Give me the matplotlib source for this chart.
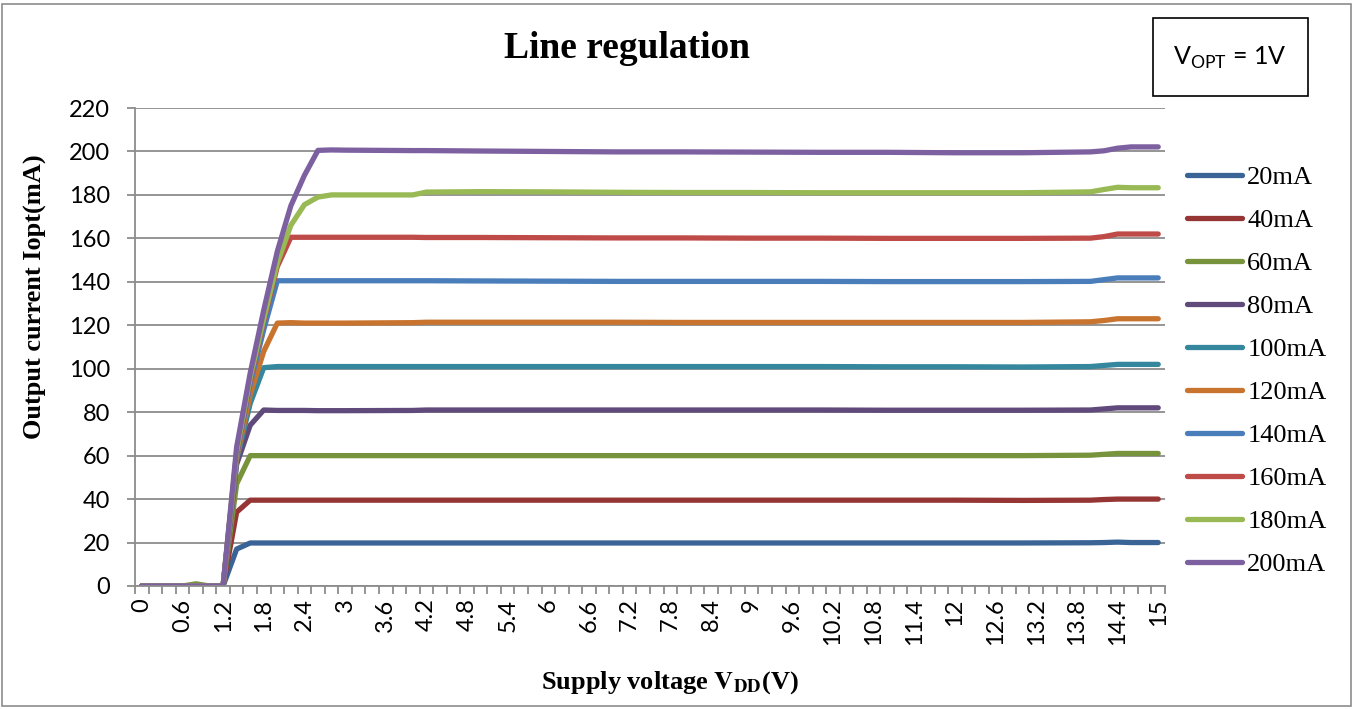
"""Line regulation chart: output current vs supply voltage"""
import matplotlib
matplotlib.use('Agg')
import matplotlib.pyplot as plt
from matplotlib.patches import Rectangle

plt.rcParams['mathtext.fontset'] = 'custom'
plt.rcParams['mathtext.rm'] = 'Lato'

# supply voltage (V) at the points
volts = [0, 0.2, 0.4, 0.6, 0.8, 1.0, 1.2, 1.4, 1.6, 1.8, 2.0, 2.2, 2.4, 2.6, 2.8, 3.0,
         4.0, 4.2, 5.0, 6.0, 7.0, 8.0, 9.0, 10.0, 11.0, 12.0, 13.0, 14.0, 14.2, 14.4, 14.6, 15.0]

# output current (mA) per load setting
i_20 = [0, 0, 0, 0, 0, 0, 0, 17, 19.8, 19.8, 19.8, 19.8, 19.8, 19.8, 19.8, 19.8,
        19.8, 19.8, 19.8, 19.8, 19.8, 19.8, 19.8, 19.8, 19.8, 19.8, 19.8, 19.9, 20.0, 20.2, 20.0, 20.0]
i_40 = [0, 0, 0, 0, 0, 0, 0, 34, 39.5, 39.5, 39.5, 39.5, 39.5, 39.5, 39.5, 39.5,
        39.5, 39.5, 39.5, 39.5, 39.5, 39.5, 39.5, 39.5, 39.5, 39.5, 39.4, 39.5, 39.8, 40.0, 40.0, 40.0]
i_60 = [0, 0, 0, 0, 1, 0, 0, 47, 60, 60, 60, 60, 60, 60, 60, 60,
        60, 60, 60, 60, 60, 60, 60, 60, 60, 60, 60, 60.2, 60.6, 61, 61, 61]
i_80 = [0, 0, 0, 0, 0, 0, 0, 56, 74, 81, 80.8, 80.8, 80.8, 80.7, 80.7, 80.7,
        80.8, 81, 81, 81, 81, 81, 81, 81, 80.9, 80.9, 80.9, 81, 81.5, 82, 82, 82]
i_100 = [0, 0, 0, 0, 0, 0, 0, 58, 84, 100.5, 101, 101, 101, 101, 101, 101,
         101, 101, 101, 101, 101, 101, 101, 101, 100.9, 100.9, 100.8, 101, 101.5, 102, 102, 102]
i_120 = [0, 0, 0, 0, 0, 0, 0, 59, 88, 108, 121, 121.2, 121, 121, 121, 121,
         121.2, 121.4, 121.4, 121.4, 121.4, 121.3, 121.3, 121.3, 121.3, 121.3, 121.3, 121.6, 122.2, 123, 123, 123]
i_140 = [0, 0, 0, 0, 0, 0, 0, 60, 93, 118, 140.5, 140.5, 140.5, 140.5, 140.5, 140.5,
         140.5, 140.5, 140.4, 140.3, 140.2, 140.2, 140.2, 140.2, 140.1, 140.1, 140.1, 140.2, 141, 141.8, 141.8, 141.8]
i_160 = [0, 0, 0, 0, 0, 0, 0, 61, 95, 122, 147, 160.5, 160.5, 160.5, 160.5, 160.5,
         160.5, 160.4, 160.4, 160.3, 160.2, 160.2, 160.1, 160.1, 160, 160, 160, 160.1, 160.8, 162, 162, 162]
i_180 = [0, 0, 0, 0, 0, 0, 0, 62, 96, 123, 148.6, 166, 175.5, 179, 180, 180,
         180, 181.3, 181.5, 181.4, 181.2, 181.1, 181.1, 181, 181, 181, 181, 181.4, 182.5, 183.5, 183.3, 183.3]
i_200 = [0, 0, 0, 0, 0, 0, 0, 64, 98, 127, 154, 175, 189, 200.5, 200.7, 200.6,
         200.4, 200.4, 200.2, 200, 199.8, 199.8, 199.7, 199.6, 199.6, 199.4, 199.4, 199.8, 200.3, 201.5, 202.1, 202.1]

labels = ['20mA', '40mA', '60mA', '80mA', '100mA', '120mA', '140mA', '160mA', '180mA', '200mA']
series = [i_20, i_40, i_60, i_80, i_100, i_120, i_140, i_160, i_180, i_200]
colors = ['#3B6496', '#963634', '#77933C', '#604A7B', '#34879D',
          '#C8742F', '#4A7EBB', '#BE4B48', '#98B954', '#7D60A0']

x_ticks = [0, 0.6, 1.2, 1.8, 2.4, 3.0, 3.6, 4.2, 4.8, 5.4, 6.0, 6.6, 7.2, 7.8, 8.4,
           9.0, 9.6, 10.2, 10.8, 11.4, 12.0, 12.6, 13.2, 13.8, 14.4, 15.0]
x_tick_labels = ['0', '0.6', '1.2', '1.8', '2.4', '3', '3.6', '4.2', '4.8', '5.4', '6', '6.6',
                 '7.2', '7.8', '8.4', '9', '9.6', '10.2', '10.8', '11.4', '12', '12.6',
                 '13.2', '13.8', '14.4', '15']
category_edges = [round(-0.1 + 0.2 * k, 1) for k in range(77)]

grid_gray = '#8C8C8C'

fig = plt.figure(figsize=(13.55, 7.09), dpi=100)
ax = fig.add_axes([135 / 1355, 1 - 586 / 709, 1030 / 1355, 478 / 709])

for vals, lab, col in zip(series, labels, colors):
    ax.plot(volts, vals, color=col, lw=3.8, label=lab,
            solid_joinstyle='round', solid_capstyle='round')

ax.set_xlim(-0.1, 15.1)
ax.set_ylim(0, 220)
ax.set_yticks(range(0, 221, 20))
ax.set_xticks(x_ticks)
ax.set_xticklabels(x_tick_labels, rotation=90)
ax.set_xticks(category_edges, minor=True)

ax.grid(axis='y', color=grid_gray, lw=1.3)
ax.set_axisbelow(True)
for side in ['top', 'right']:
    ax.spines[side].set_visible(False)
for side in ['left', 'bottom']:
    ax.spines[side].set_color(grid_gray)
    ax.spines[side].set_linewidth(1.3)

ax.tick_params(axis='x', which='major', length=0, pad=9, labelsize=17)
ax.tick_params(axis='x', which='minor', length=6, width=1.3, color=grid_gray)
ax.tick_params(axis='y', length=6, width=1.3, color=grid_gray, pad=12, labelsize=17)
for t in ax.get_xticklabels() + ax.get_yticklabels():
    t.set_fontfamily('Lato')

fig.legend(loc='upper left', bbox_to_anchor=(1176 / 1355, 1 - 155 / 709),
           frameon=False, handlelength=2.1, handletextpad=0.2, labelspacing=0.74,
           borderaxespad=0, prop={'family': 'Liberation Serif', 'size': 19})

fig.text(627 / 1355, 1 - 49 / 709, 'Line regulation', ha='center', va='center',
         fontsize=27, fontweight='bold', family='Liberation Serif')
fig.text(35 / 1355, 1 - 297 / 709, 'Output current Iopt(mA)', rotation=90,
         ha='center', va='center', fontsize=19, fontweight='bold', family='Liberation Serif')
fig.text(670 / 1355, 1 - 683 / 709, r'Supply voltage $\mathbf{V_{DD}}$(V)',
         ha='center', va='center', fontsize=19, fontweight='bold',
         family='Liberation Serif', math_fontfamily='stix')

# V_OPT box
fig.patches.append(Rectangle((1153 / 1355, 1 - 96 / 709), 155 / 1355, 78 / 709,
                             transform=fig.transFigure, fill=False, ec='black', lw=1.2))
fig.text(1230 / 1355, 1 - 58 / 709, r'V$_{\mathregular{OPT}}$ = 1V', ha='center', va='center',
         fontsize=18, family='Lato', math_fontfamily='custom')

# outer chart border
fig.patches.append(Rectangle((2 / 1355, 3 / 709), 1349 / 1355, 702 / 709,
                             transform=fig.transFigure, fill=False, ec=grid_gray, lw=1.2))

fig.savefig('out.png', dpi=100)
